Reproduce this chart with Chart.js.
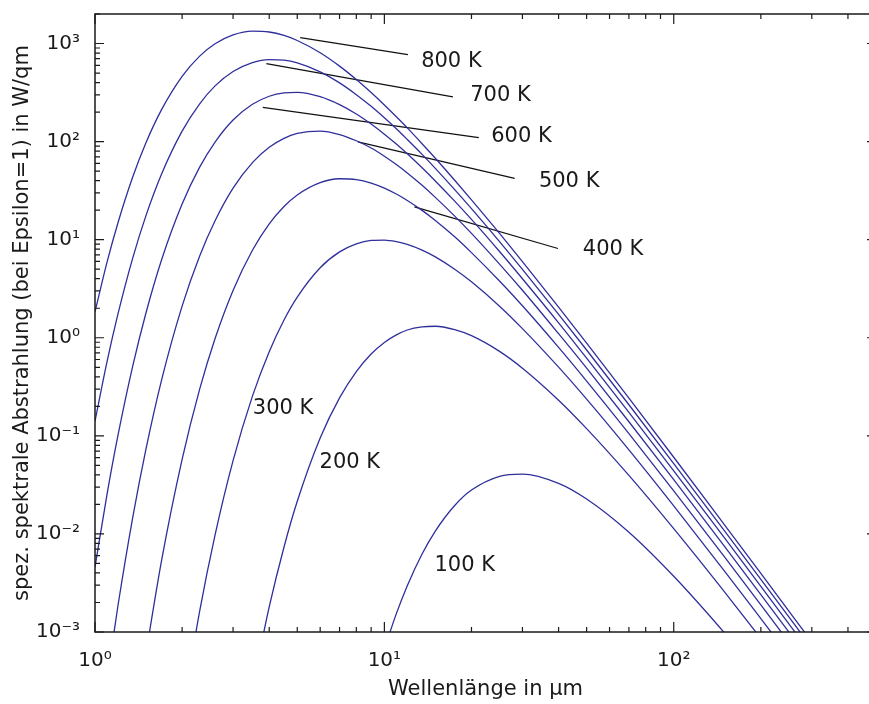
<!DOCTYPE html>
<html>
<head>
<meta charset="utf-8">
<script src="https://cdn.jsdelivr.net/npm/chart.js@4.4.1/dist/chart.umd.min.js"></script>
<style>
html,body{margin:0;padding:0;background:#fff;overflow:hidden;width:869px;height:704px}
canvas{display:block}
</style>
</head>
<body>
<canvas id="c" width="900" height="704" style="width:900px;height:704px"></canvas>
<script>
// Wavelength in µm (x values shared by all curves)
const wavelengths = [1, 1.1, 1.2, 1.35, 1.5, 1.7, 2, 2.3, 2.6, 3, 3.5, 4, 4.5, 5, 6, 7, 8, 9, 10, 11, 12, 13.5, 15, 17.5, 20, 25, 30, 40, 50, 70, 100, 150, 200, 300];

// spectral radiance in W/qm (null = far outside the plotted range)
const T800 = [1.84, 5.87, 14.8, 43.5, 97.3, 213, 463, 744, 994, 1224, 1338, 1311, 1208, 1074, 805, 588, 429, 316, 236, 179, 138, 95.2, 67.7, 40.4, 25.5, 11.6, 5.97, 2.05, 0.881, 0.242, 0.0605, 0.01231, 0.00396, 0.000793];
const T700 = [0.141, 0.567, 1.74, 6.49, 17.6, 47.1, 128, 243, 370, 519, 640, 686, 677, 635, 515, 397, 301, 229, 175, 135, 105, 74.1, 53.4, 32.4, 20.7, 9.56, 4.98, 1.73, 0.750, 0.2076, 0.0522, 0.01068, 0.00344, 0.000691];
const T600 = [0.00459, 0.0252, 0.1003, 0.513, 1.79, 6.28, 23.1, 54.9, 99.0, 166, 240, 290, 314, 318, 287, 238, 191, 151, 119, 94.3, 75.1, 54.1, 39.7, 24.7, 16.1, 7.58, 4.00, 1.42, 0.619, 0.1734, 0.0440, 0.00905, 0.00292, 0.000589];
const T500 = [null, 0.000322, 0.00184, 0.01469, 0.0731, 0.374, 2.10, 6.82, 15.6, 33.5, 61.0, 87.4, 108, 121, 128, 118, 102, 86.0, 71.0, 58.3, 47.9, 35.8, 27.0, 17.4, 11.6, 5.64, 3.05, 1.10, 0.490, 0.1393, 0.0357, 0.00742, 0.00240, 0.000487];
const T400 = [null, null, null, null, 0.000604, 0.00543, 0.0575, 0.299, 0.983, 3.04, 7.80, 14.5, 21.8, 28.6, 38.2, 41.8, 41.0, 37.8, 33.6, 29.2, 25.1, 19.9, 15.7, 10.7, 7.38, 3.79, 2.12, 0.798, 0.362, 0.1055, 0.0275, 0.00579, 0.00189, 0.000385];
const T300 = [null, null, null, null, null, null, 0.000143, 0.00163, 0.00977, 0.0559, 0.254, 0.722, 1.52, 2.60, 5.18, 7.51, 9.08, 9.83, 9.92, 9.57, 8.96, 7.83, 6.68, 5.00, 3.72, 2.10, 1.24, 0.502, 0.237, 0.0720, 0.01935, 0.00416, 0.00137, 0.000283];
const T200 = [null, null, null, null, null, null, null, null, null, null, 0.000269, 0.00180, 0.00736, 0.0215, 0.0951, 0.244, 0.452, 0.682, 0.895, 1.07, 1.20, 1.29, 1.31, 1.21, 1.05, 0.727, 0.490, 0.231, 0.1185, 0.0395, 0.01131, 0.00255, 0.000860, 0.000181];
const T100 = [null, null, null, null, null, null, null, null, null, null, null, null, null, null, null, null, null, null, 0.000672, 0.00154, 0.00297, 0.00625, 0.0107, 0.0195, 0.0280, 0.0387, 0.0408, 0.0328, 0.0227, 0.01041, 0.00370, 0.000974, 0.000353, 0.0000796];

const seriesNames = ['800 K', '700 K', '600 K', '500 K', '400 K', '300 K', '200 K', '100 K'];
const seriesValues = [T800, T700, T600, T500, T400, T300, T200, T100];

// curve labels (data coordinates of the text's left edge)
const labelText = ['800 K', '700 K', '600 K', '500 K', '400 K', '300 K', '200 K', '100 K'];
const labelX = [13.4, 19.8, 23.4, 34.2, 48.5, 3.51, 5.97, 14.9];
const labelY = [652, 292, 112, 39.5, 8.0, 0.1915, 0.0533, 0.00472];

// leader lines from curves to labels (data coordinates)
const leaderX1 = [5.12, 3.91, 3.80, 8.10, 12.7];
const leaderY1 = [1151, 625, 223, 99.3, 21.6];
const leaderX2 = [12.06, 17.25, 21.2, 28.2, 39.8];
const leaderY2 = [772, 286, 110, 42.1, 8.13];

// axes
const xRange = [1, 500];
const yRange = [0.001, 2000];
const xDecades = [1, 10, 100];
const yDecades = [0.001, 0.01, 0.1, 1, 10, 100, 1000];
const minorSteps = [1, 2, 3, 4, 5, 6, 7, 8, 9];
const xTitle = 'Wellenlänge in µm';
const yTitle = 'spez. spektrale Abstrahlung (bei Epsilon=1) in W/qm';

const SUP = {'-':'⁻','0':'⁰','1':'¹','2':'²','3':'³','4':'⁴','5':'⁵','6':'⁶','7':'⁷','8':'⁸','9':'⁹'};
function isDecade(v) { const l = Math.log10(v); return Math.abs(l - Math.round(l)) < 1e-9; }
function decadeLabel(v) {
  if (!isDecade(v)) return '';
  return '10' + String(Math.round(Math.log10(v))).split('').map(c => SUP[c]).join('');
}
function tickList(decades, range) {
  const out = [];
  decades.forEach(d => minorSteps.forEach(m => {
    const v = Number((m * d).toPrecision(6));
    if (v >= range[0] - 1e-12 && v <= range[1] + 1e-9) out.push({value: v, major: m === 1});
  }));
  return out;
}

const curveColor = '#2f2f9c';
const datasets = seriesValues.map((vals, k) => ({
  label: seriesNames[k],
  data: wavelengths.map((w, i) => ({x: w, y: vals[i]})),
  borderColor: curveColor,
  borderWidth: 1.3,
  pointRadius: 0,
  fill: false,
  spanGaps: false,
  cubicInterpolationMode: 'monotone'
}));
leaderX1.forEach((_, i) => datasets.push({
  label: 'leader' + i,
  data: [{x: leaderX1[i], y: leaderY1[i]}, {x: leaderX2[i], y: leaderY2[i]}],
  borderColor: '#111',
  borderWidth: 1.2,
  pointRadius: 0,
  fill: false,
  tension: 0
}));

const decorPlugin = {
  id: 'decor',
  afterDraw(chart) {
    const {ctx, chartArea: a, scales: {x, y}} = chart;
    ctx.save();
    ctx.strokeStyle = '#1a1a1a';
    ctx.lineWidth = 1.5;
    ctx.strokeRect(a.left, a.top, a.right - a.left, a.bottom - a.top);
    ctx.lineWidth = 1.2;
    ctx.beginPath();
    x.ticks.forEach(t => {
      const px = x.getPixelForValue(t.value);
      const L = isDecade(t.value) ? 10 : 5;
      ctx.moveTo(px, a.bottom); ctx.lineTo(px, a.bottom - L);
      ctx.moveTo(px, a.top); ctx.lineTo(px, a.top + L);
    });
    y.ticks.forEach(t => {
      const py = y.getPixelForValue(t.value);
      const L = isDecade(t.value) ? 9 : 5;
      ctx.moveTo(a.left, py); ctx.lineTo(a.left + L, py);
      ctx.moveTo(a.right, py); ctx.lineTo(a.right - L, py);
    });
    ctx.stroke();
    ctx.fillStyle = '#1a1a1a';
    ctx.font = '21px "DejaVu Sans", sans-serif';
    ctx.textAlign = 'left';
    ctx.textBaseline = 'middle';
    labelText.forEach((s, i) => {
      ctx.fillText(s, x.getPixelForValue(labelX[i]), y.getPixelForValue(labelY[i]));
    });
    ctx.restore();
  }
};

Chart.defaults.font.family = '"DejaVu Sans", sans-serif';
Chart.defaults.color = '#1a1a1a';

new Chart(document.getElementById('c'), {
  type: 'line',
  data: {datasets},
  options: {
    responsive: false,
    animation: false,
    layout: {padding: {top: 14, right: 24, left: 0, bottom: 0}},
    plugins: {legend: {display: false}, tooltip: {enabled: false}},
    scales: {
      x: {
        type: 'logarithmic',
        min: xRange[0], max: xRange[1],
        grid: {display: false, drawTicks: false},
        border: {display: false},
        afterBuildTicks: s => { s.ticks = tickList(xDecades, xRange); },
        afterFit: s => { s.height = 72; s.paddingLeft = 0; s.paddingRight = 0; },
        ticks: {autoSkip: false, maxRotation: 0, padding: 17, font: {size: 20}, callback: v => decadeLabel(v)},
        title: {display: true, text: xTitle, font: {size: 21}, padding: {top: 0, bottom: 2}}
      },
      y: {
        type: 'logarithmic',
        min: yRange[0], max: yRange[1],
        grid: {display: false, drawTicks: false},
        border: {display: false},
        afterBuildTicks: s => { s.ticks = tickList(yDecades, yRange); },
        afterFit: s => { s.width = 95; s.paddingTop = 0; s.paddingBottom = 0; },
        ticks: {autoSkip: false, padding: 15, font: {size: 20}, callback: v => decadeLabel(v)},
        title: {display: true, text: yTitle, font: {size: 21}, padding: {top: 10, bottom: 0}}
      }
    }
  },
  plugins: [decorPlugin]
});
</script>
</body>
</html>
